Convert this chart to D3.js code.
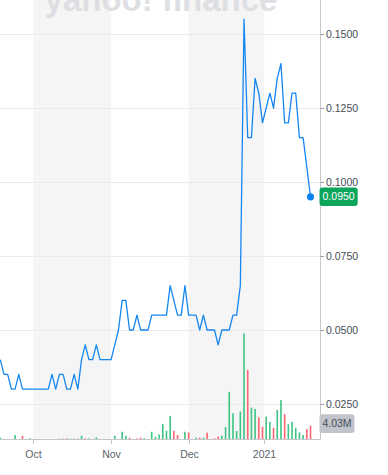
<!DOCTYPE html>
<html><head><meta charset="utf-8">
<script src="https://cdn.jsdelivr.net/npm/d3@7"></script>
<style>
html,body{margin:0;padding:0;background:#fff;}
svg{display:block;font-family:"Liberation Sans",Arial,sans-serif;}
</style></head><body>
<svg id="c" width="388" height="475"></svg>
<script>
// ---- data ----
const closeValues = [
  0.040,0.035,0.035,0.030,0.030,0.035,0.030,0.030,0.030,0.030,
  0.030,0.030,0.030,0.030,0.035,0.030,0.035,0.035,0.030,0.030,
  0.035,0.030,0.040,0.045,0.040,0.040,0.045,0.040,0.040,0.040,
  0.040,0.045,0.050,0.060,0.060,0.050,0.050,0.055,0.050,0.050,
  0.050,0.055,0.055,0.055,0.055,0.055,0.065,0.060,0.055,0.055,
  0.065,0.055,0.055,0.055,0.050,0.055,0.050,0.050,0.050,0.045,
  0.050,0.050,0.050,0.055,0.055,0.065,0.155,0.115,0.115,0.135,
  0.130,0.120,0.125,0.130,0.125,0.135,0.140,0.120,0.120,0.130,
  0.130,0.115,0.115,0.105,0.095
];
const volumeM = [
  0.4,0,0,0,1.2,0,1.0,0,0.2,0,
  0,0,0,0,0,0,0.1,0.1,0.2,0.1,
  0.1,0.1,1.0,0.2,0.2,0,0.5,0,0,0,
  0,1.0,0,2.2,1.0,0.4,0,0.2,0.4,0.2,
  0,2.2,0.7,1.4,4.6,2.5,7.0,2.5,1.2,0,
  2.2,2.0,0,0.4,0.4,0.4,1.9,0,0.2,0.7,
  1.0,3.6,14.3,7.8,2.4,8.3,32.0,20.9,9.5,9.1,
  6.5,3.7,6.8,5.2,3.4,8.8,11.8,7.5,4.5,5.2,
  3.4,2.0,1.2,3.0,4.03
];
const volumeUp = [
  1,1,1,1,1,1,0,1,1,1,
  1,1,1,1,1,1,0,1,0,1,
  0,1,1,0,1,1,1,1,1,1,
  1,1,1,1,1,0,1,0,0,1,
  1,1,1,1,1,1,1,0,0,1,
  1,0,1,1,0,1,0,1,0,0,
  1,1,1,1,1,1,1,0,1,1,
  0,0,1,1,0,1,1,0,1,1,
  1,1,1,0,0
];
const yTickValues = [0.025,0.05,0.075,0.1,0.125,0.15];
const xTickLabels = ['Oct','Nov','Dec','2021'];
const xTickIndex = [8.94,29.98,51.0,71.5];
const lastPriceLabel = '0.0950';
const lastVolumeLabel = '4.03M';

// ---- layout ----
const svg = d3.select('#c');
const plotRight = 320.5, plotBottom = 439;
const x = d3.scaleLinear().domain([0, closeValues.length-1]).range([0.3, 310.5]);
const y = d3.scaleLinear().domain([0, 0.16]).range([478, 478-0.16*2960]);
const yVol = d3.scaleLinear().domain([0, 40]).range([plotBottom, plotBottom - 40*3.3]);

// shaded month bands (alternate months)
const bands = [[xTickIndex[0], xTickIndex[1]], [xTickIndex[2], xTickIndex[3]]];
svg.append('g').selectAll('rect').data(bands).join('rect')
  .attr('x', d => x(d[0])).attr('y', 0)
  .attr('width', d => x(d[1]) - x(d[0])).attr('height', plotBottom)
  .attr('fill', '#f5f5f5');

// watermark
svg.append('text').attr('x', 161).attr('y', 11)
  .attr('text-anchor','middle').attr('font-size', 33).attr('font-weight','bold')
  .attr('fill', '#dddfe3').text('yahoo! finance');

// gridlines
svg.append('g').selectAll('line').data(yTickValues).join('line')
  .attr('x1', 0).attr('x2', plotRight).attr('y1', d => Math.round(y(d))+0.5).attr('y2', d => Math.round(y(d))+0.5)
  .attr('stroke', '#ebebeb').attr('stroke-width', 1);

// volume bars
svg.append('g').selectAll('rect').data(volumeM).join('rect')
  .attr('x', (d,i) => x(i) - 0.8).attr('width', 1.6)
  .attr('y', d => yVol(d)).attr('height', d => plotBottom - yVol(d))
  .attr('fill', (d,i) => volumeUp[i] ? '#3ec483' : '#ff6470');

// price line
const line = d3.line().x((d,i) => x(i)).y(d => y(d));
svg.append('path').datum(closeValues).attr('d', line)
  .attr('fill','none').attr('stroke','#1586f0').attr('stroke-width',1.3).attr('stroke-linejoin','round');

// end dot
const li = closeValues.length-1;
svg.append('circle').attr('cx', x(li)).attr('cy', y(closeValues[li])).attr('r', 3.6).attr('fill','#0a80f0');

// axes lines
svg.append('line').attr('x1', plotRight).attr('x2', plotRight).attr('y1', 0).attr('y2', plotBottom+0.5)
  .attr('stroke', '#c4c6ca').attr('stroke-width', 1);
svg.append('line').attr('x1', 0).attr('x2', plotRight).attr('y1', plotBottom+0.5).attr('y2', plotBottom+0.5)
  .attr('stroke', '#c4c6ca').attr('stroke-width', 1);

// y ticks
const yt = svg.append('g').selectAll('g').data(yTickValues).join('g')
  .attr('transform', d => `translate(0,${Math.round(y(d))+0.5})`);
yt.append('line').attr('x1', plotRight).attr('x2', plotRight+3.5).attr('stroke','#9a9ea4');
yt.append('text').attr('x', 326).attr('dy','0.35em').attr('font-size', 10.5).attr('fill','#464e56')
  .text(d => d3.format('.4f')(d));

// x ticks
const xt = svg.append('g').selectAll('g').data(xTickIndex).join('g')
  .attr('transform', d => `translate(${Math.round(x(d))+0.5},0)`);
xt.append('line').attr('y1', plotBottom+0.5).attr('y2', plotBottom+5).attr('stroke','#c4c6ca');
xt.append('text').attr('y', 457.5).attr('text-anchor','middle').attr('font-size', 10.5).attr('fill','#5b636a')
  .text((d,i) => xTickLabels[i]);

// last price label
const py = y(closeValues[li]);
svg.append('rect').attr('x', 319.5).attr('y', py - 9.3).attr('width', 38.2).attr('height', 18.4).attr('rx', 3)
  .attr('fill', '#0ca55c');
svg.append('text').attr('x', 338.6).attr('y', py).attr('dy','0.35em').attr('text-anchor','middle')
  .attr('font-size', 10.5).attr('fill','#fff').text(lastPriceLabel);

// last volume label
const vy = yVol(volumeM[li]);
svg.append('rect').attr('x', 319.5).attr('y', vy - 11.4).attr('width', 35).attr('height', 18.7).attr('rx', 3)
  .attr('fill', '#c1c4cb');
svg.append('text').attr('x', 337).attr('y', vy - 2).attr('dy','0.35em').attr('text-anchor','middle')
  .attr('font-size', 10.5).attr('fill','#464e56').text(lastVolumeLabel);
</script>
</body></html>
